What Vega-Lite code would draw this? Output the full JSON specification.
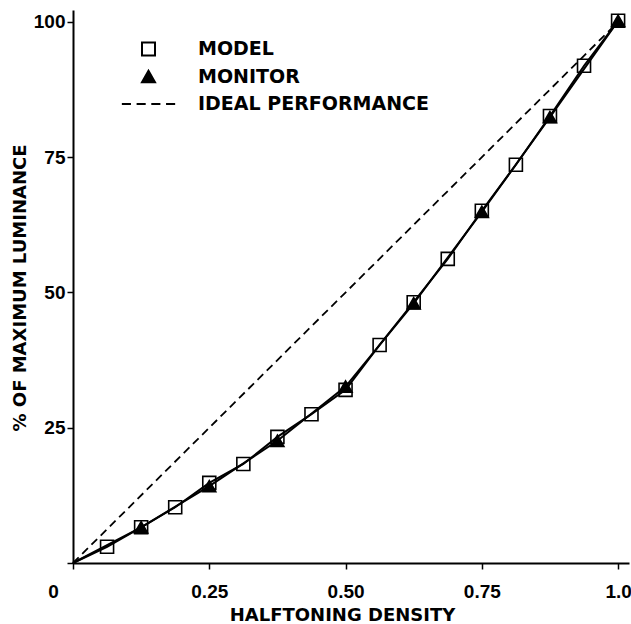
{
  "$schema": "https://vega.github.io/schema/vega-lite/v6.json",
  "width": 556,
  "height": 553,
  "autosize": {"type": "none"},
  "padding": {"left": 73, "top": 10, "right": 2, "bottom": 61},
  "background": "white",
  "config": {
    "view": {"stroke": null},
    "axis": {
      "domainColor": "black",
      "domainWidth": 2,
      "tickColor": "black",
      "tickWidth": 1.5,
      "tickSize": 6,
      "grid": false,
      "labelFont": "Liberation Sans",
      "labelFontWeight": "bold",
      "labelFontSize": 19,
      "labelColor": "black",
      "titleFont": "DejaVu Sans",
      "titleFontWeight": "bold",
      "titleFontSize": 18,
      "titleColor": "black"
    }
  },
  "data": {
    "values": [
      {"series": "MODEL", "density": 0, "lum": 0},
      {"series": "MODEL", "density": 0.0625, "lum": 3.0},
      {"series": "MODEL", "density": 0.125, "lum": 6.6},
      {"series": "MODEL", "density": 0.1875, "lum": 10.3},
      {"series": "MODEL", "density": 0.25, "lum": 14.8},
      {"series": "MODEL", "density": 0.3125, "lum": 18.3},
      {"series": "MODEL", "density": 0.375, "lum": 23.3},
      {"series": "MODEL", "density": 0.4375, "lum": 27.5},
      {"series": "MODEL", "density": 0.5, "lum": 32.0},
      {"series": "MODEL", "density": 0.5625, "lum": 40.3},
      {"series": "MODEL", "density": 0.625, "lum": 48.2},
      {"series": "MODEL", "density": 0.6875, "lum": 56.2},
      {"series": "MODEL", "density": 0.75, "lum": 65.1},
      {"series": "MODEL", "density": 0.8125, "lum": 73.6},
      {"series": "MODEL", "density": 0.875, "lum": 82.6},
      {"series": "MODEL", "density": 0.9375, "lum": 91.9},
      {"series": "MODEL", "density": 1.0, "lum": 100.2},
      {"series": "MONITOR", "density": 0, "lum": 0},
      {"series": "MONITOR", "density": 0.125, "lum": 6.6},
      {"series": "MONITOR", "density": 0.25, "lum": 14.2},
      {"series": "MONITOR", "density": 0.375, "lum": 22.6},
      {"series": "MONITOR", "density": 0.5, "lum": 32.6},
      {"series": "MONITOR", "density": 0.625, "lum": 48.0},
      {"series": "MONITOR", "density": 0.75, "lum": 64.9},
      {"series": "MONITOR", "density": 0.875, "lum": 82.4},
      {"series": "MONITOR", "density": 1.0, "lum": 100.2},
      {"series": "IDEAL PERFORMANCE", "density": 0, "lum": 0},
      {"series": "IDEAL PERFORMANCE", "density": 1.0, "lum": 100}
    ]
  },
  "encoding": {
    "x": {
      "field": "density",
      "type": "quantitative",
      "scale": {"domain": [0, 1.02], "nice": false, "zero": false},
      "axis": {
        "values": [0, 0.25, 0.5, 0.75, 1],
        "title": "HALFTONING DENSITY",
        "labelExpr": "datum.value === 0 ? '0' : (datum.value === 1 ? '1.0' : format(datum.value, '.2f'))",
        "labelBaseline": "alphabetic",
        "labelPadding": 28,
        "labelFlush": false,
        "labelOverlap": false,
        "labelOffset": {"condition": {"test": "datum.value === 0", "value": -20}, "value": 0},
        "titleBaseline": "alphabetic",
        "titleAlign": "center",
        "titleX": 269,
        "titleY": 57
      }
    },
    "y": {
      "field": "lum",
      "type": "quantitative",
      "scale": {"domain": [0, 102.2], "nice": false},
      "axis": {
        "values": [0, 25, 50, 75, 100],
        "title": "% OF MAXIMUM LUMINANCE",
        "labelExpr": "datum.value === 0 ? '' : datum.label",
        "labelPadding": 2,
        "labelBaseline": "middle",
        "titleAngle": 270,
        "titleBaseline": "alphabetic",
        "titleAlign": "center",
        "titleX": -48,
        "titleY": 277.5
      }
    }
  },
  "layer": [
    {
      "transform": [{"filter": "datum.series === 'IDEAL PERFORMANCE'"}],
      "mark": {"type": "line", "stroke": "black", "strokeWidth": 1.8, "strokeDash": [8, 5]},
      "encoding": {}
    },
    {
      "transform": [{"filter": "datum.series !== 'IDEAL PERFORMANCE'"}],
      "mark": {"type": "line", "stroke": "black", "strokeWidth": 2},
      "encoding": {"detail": {"field": "series", "type": "nominal"}}
    },
    {
      "transform": [{"filter": "datum.series !== 'IDEAL PERFORMANCE' && datum.density > 0"}],
      "mark": {"type": "point", "filled": true, "stroke": "black", "strokeWidth": 1.6, "size": 169, "opacity": 1},
      "encoding": {
        "shape": {
          "field": "series",
          "type": "nominal",
          "scale": {
            "domain": ["MODEL", "MONITOR", "IDEAL PERFORMANCE"],
            "range": ["square", "triangle-up", "M-4.1,0L-2.7,0M-1.83,0L-0.43,0M0.43,0L1.83,0M2.7,0L4.1,0"]
          },
          "legend": {
            "title": null,
            "orient": "none",
            "legendX": 46,
            "legendY": 31,
            "padding": 0,
            "labelFont": "DejaVu Sans",
            "labelFontWeight": "bold",
            "labelFontSize": 19,
            "labelColor": "black",
            "labelOffset": 40,
            "labelLimit": 400,
            "symbolOffset": 20,
            "symbolStrokeColor": "black",
            "symbolStrokeWidth": 2,
            "symbolSize": 169,
            "symbolOpacity": 1,
            "rowPadding": 8.5,
            "clipHeight": 16,
            "encode": {"symbols": {"update": {"stroke": {"value": "black"}, "strokeWidth": {"value": 2}}}}
          }
        },
        "fill": {
          "field": "series",
          "type": "nominal",
          "scale": {
            "domain": ["MODEL", "MONITOR", "IDEAL PERFORMANCE"],
            "range": ["transparent", "black", "transparent"]
          },
          "legend": {
            "title": null,
            "orient": "none",
            "legendX": 46,
            "legendY": 31,
            "padding": 0,
            "labelFont": "DejaVu Sans",
            "labelFontWeight": "bold",
            "labelFontSize": 19,
            "labelColor": "black",
            "labelOffset": 40,
            "labelLimit": 400,
            "symbolOffset": 20,
            "symbolStrokeColor": "black",
            "symbolStrokeWidth": 2,
            "symbolSize": 169,
            "symbolOpacity": 1,
            "rowPadding": 8.5,
            "clipHeight": 16,
            "encode": {"symbols": {"update": {"stroke": {"value": "black"}, "strokeWidth": {"value": 2}}}}
          }
        }
      }
    }
  ]
}
